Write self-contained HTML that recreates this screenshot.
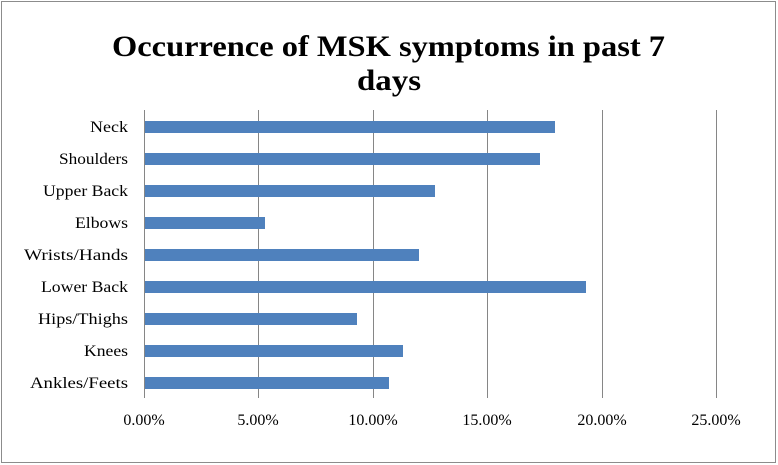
<!DOCTYPE html>
<html><head><meta charset="utf-8"><style>
body{margin:0;background:#fff}
svg{display:block}
text{font-family:"Liberation Serif",serif}
</style></head><body>
<svg width="778" height="465" viewBox="0 0 778 465">
<rect x="1.5" y="1.5" width="774" height="461" fill="#fff" stroke="#8c8c8c" stroke-width="1"/>
<text x="112" y="56" font-size="30" font-weight="bold" textLength="553" lengthAdjust="spacingAndGlyphs">Occurrence of MSK symptoms in past 7</text>
<text x="357" y="90" font-size="30" font-weight="bold" textLength="64" lengthAdjust="spacingAndGlyphs">days</text>
<g stroke="#868686" stroke-width="1">
<line x1="258.5" y1="110" x2="258.5" y2="398"/>
<line x1="373.5" y1="110" x2="373.5" y2="398"/>
<line x1="487.5" y1="110" x2="487.5" y2="398"/>
<line x1="602.5" y1="110" x2="602.5" y2="398"/>
<line x1="716.5" y1="110" x2="716.5" y2="398"/>
<line x1="144.5" y1="110" x2="144.5" y2="398"/>
</g>
<g fill="#4f81bd">
<rect x="145" y="121" width="410" height="12"/>
<rect x="145" y="153" width="395" height="12"/>
<rect x="145" y="185" width="290" height="12"/>
<rect x="145" y="217" width="120" height="12"/>
<rect x="145" y="249" width="274" height="12"/>
<rect x="145" y="281" width="441" height="12"/>
<rect x="145" y="313" width="212" height="12"/>
<rect x="145" y="345" width="258" height="12"/>
<rect x="145" y="377" width="244" height="12"/>
</g>
<g font-size="16">
<text x="90" y="132" textLength="38" lengthAdjust="spacingAndGlyphs">Neck</text>
<text x="59" y="164" textLength="69" lengthAdjust="spacingAndGlyphs">Shoulders</text>
<text x="43" y="196" textLength="85" lengthAdjust="spacingAndGlyphs">Upper Back</text>
<text x="75" y="228" textLength="53" lengthAdjust="spacingAndGlyphs">Elbows</text>
<text x="24" y="260" textLength="104" lengthAdjust="spacingAndGlyphs">Wrists/Hands</text>
<text x="41" y="292" textLength="87" lengthAdjust="spacingAndGlyphs">Lower Back</text>
<text x="38" y="324" textLength="90" lengthAdjust="spacingAndGlyphs">Hips/Thighs</text>
<text x="84" y="356" textLength="44" lengthAdjust="spacingAndGlyphs">Knees</text>
<text x="30" y="388" textLength="98" lengthAdjust="spacingAndGlyphs">Ankles/Feets</text>
</g>
<g font-size="16" text-anchor="middle">
<text x="144" y="425">0.00%</text>
<text x="258" y="425">5.00%</text>
<text x="373" y="425">10.00%</text>
<text x="487" y="425">15.00%</text>
<text x="602" y="425">20.00%</text>
<text x="716" y="425">25.00%</text>
</g>
</svg>
</body></html>
